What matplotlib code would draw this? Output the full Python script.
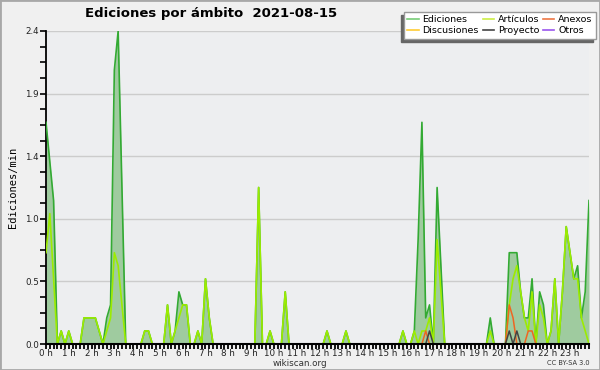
import numpy as np
import matplotlib
matplotlib.use('Agg')
from matplotlib import pyplot as plt
from matplotlib.lines import Line2D
from matplotlib.patches import Rectangle

# edits per minute, one value per 10 minutes (144 bins)
ediciones = [1.7, 1.4, 1.1, 0, 0.1, 0, 0.1, 0, 0, 0, 0.2, 0.2,
             0.2, 0.2, 0.1, 0, 0.2, 0.3, 2.1, 2.4, 1.2, 0, 0, 0,
             0, 0, 0.1, 0.1, 0, 0, 0, 0, 0.3, 0, 0.1, 0.4,
             0.3, 0.3, 0, 0, 0.1, 0, 0.5, 0.2, 0, 0, 0, 0,
             0, 0, 0, 0, 0, 0, 0, 0, 1.2, 0, 0, 0.1,
             0, 0, 0, 0.4, 0, 0, 0, 0, 0, 0, 0, 0,
             0, 0, 0.1, 0, 0, 0, 0, 0.1, 0, 0, 0, 0,
             0, 0, 0, 0, 0, 0, 0, 0, 0, 0, 0.1, 0,
             0, 0.1, 0.8, 1.7, 0.2, 0.3, 0, 1.2, 0.6, 0, 0, 0,
             0, 0, 0, 0, 0, 0, 0, 0, 0, 0.2, 0, 0,
             0, 0, 0.7, 0.7, 0.7, 0.4, 0.2, 0.2, 0.5, 0, 0.4, 0.3,
             0, 0.1, 0.5, 0, 0.4, 0.9, 0.7, 0.5, 0.6, 0.2, 0.4, 1.1]

articulos = [0.7, 1.0, 0.5, 0, 0.1, 0, 0.1, 0, 0, 0, 0.2, 0.2,
             0.2, 0.2, 0.1, 0, 0.1, 0.2, 0.7, 0.6, 0.3, 0, 0, 0,
             0, 0, 0.1, 0.1, 0, 0, 0, 0, 0.3, 0, 0.1, 0.2,
             0.3, 0.3, 0, 0, 0.1, 0, 0.5, 0.2, 0, 0, 0, 0,
             0, 0, 0, 0, 0, 0, 0, 0, 1.2, 0, 0, 0.1,
             0, 0, 0, 0.4, 0, 0, 0, 0, 0, 0, 0, 0,
             0, 0, 0.1, 0, 0, 0, 0, 0.1, 0, 0, 0, 0,
             0, 0, 0, 0, 0, 0, 0, 0, 0, 0, 0.1, 0,
             0, 0.1, 0, 0.1, 0.1, 0.2, 0, 0.8, 0.4, 0, 0, 0,
             0, 0, 0, 0, 0, 0, 0, 0, 0, 0.1, 0, 0,
             0, 0, 0.3, 0.5, 0.6, 0.4, 0.2, 0.1, 0.4, 0, 0.3, 0.2,
             0, 0.1, 0.5, 0, 0.4, 0.9, 0.7, 0.5, 0.5, 0.2, 0.1, 0]

anexos = [0] * 100 + [0.1, 0] + [0] * 20 + [0.3, 0.2, 0, 0, 0, 0.1, 0.1] + [0] * 15
proyecto = [0] * 101 + [0.1] + [0] * 20 + [0.1, 0, 0.1] + [0] * 19
discusiones = [0] * 144
otros = [0] * 144

hour_labels = ['%d h' % h for h in range(24)]
ytick_vals = [0, 0.48, 0.96, 1.44, 1.92, 2.4]
ytick_labels = ['0.0', '0.5', '1.0', '1.4', '1.9', '2.4']

x = np.arange(len(ediciones))

fig = plt.figure(figsize=(6, 3.7), dpi=100, facecolor='#f0f0f0')
fig.patches.append(Rectangle((0, 0), 1, 1, transform=fig.transFigure, fill=False,
                             ec='#a8a8a8', lw=2, zorder=0))

ax = fig.add_axes([46/600, 26/370, 543/600, 313/370])
ax.set_facecolor('#edeef0')

ax.fill_between(x, ediciones, 0, color='#9fcb9f', lw=0, zorder=2)
ax.plot(x, ediciones, color='#33aa33', lw=1.2, zorder=3)
ax.plot(x, articulos, color='#9cec00', lw=1.2, zorder=4)
ax.plot(x, discusiones, color='#ffcc33', lw=1, zorder=1)
ax.plot(x, otros, color='#9955ee', lw=1, zorder=1)
ax.plot(x, anexos, color='#ee6622', lw=1.1, zorder=5)
ax.plot(x, proyecto, color='#444444', lw=1.1, zorder=6)

ax.set_xlim(0, 143)
ax.set_ylim(0, 2.4)
ax.set_xticks(range(0, 144, 6))
ax.set_xticklabels(hour_labels, fontsize=6.3, color='#222222')
ax.set_xticks(range(0, 144), minor=True)
ax.set_yticks(ytick_vals)
ax.set_yticklabels(ytick_labels, fontsize=6.3, color='#222222')
ax.set_yticks(np.arange(0, 2.41, 0.12), minor=True)
ax.tick_params(axis='y', which='both', direction='out', length=4, width=1.2, pad=1)
ax.tick_params(axis='x', which='both', direction='out', length=3.5, width=1.3, pad=0)
ax.yaxis.grid(True, color='#cccccc', lw=1)
ax.set_axisbelow(True)
for s in ['top', 'right']:
    ax.spines[s].set_visible(False)
ax.spines['left'].set_linewidth(1.3)
ax.spines['bottom'].set_linewidth(1.5)
ax.spines['bottom'].set_zorder(8)
ax.set_ylabel('Ediciones/min', fontsize=7.5, family='DejaVu Sans Mono', labelpad=5)

fig.text(85/600, 1 - 13/370, 'Ediciones por ámbito  2021-08-15', fontsize=9.5,
         weight='bold', ha='left', va='center')
fig.text(300/600, 1 - 363/370, 'wikiscan.org', fontsize=6.3, ha='center', va='center', color='#333333')
fig.text(590/600, 1 - 363/370, 'CC BY-SA 3.0', fontsize=4.8, ha='right', va='center', color='#333333')

handles = [Line2D([], [], color='#77cc77', lw=1.2),
           Line2D([], [], color='#ffcc33', lw=1.2),
           Line2D([], [], color='#ccee44', lw=1.2),
           Line2D([], [], color='#444444', lw=1.2),
           Line2D([], [], color='#ee7744', lw=1.2),
           Line2D([], [], color='#9955ee', lw=1.2)]
labels = ['Ediciones', 'Discusiones', 'Artículos', 'Proyecto', 'Anexos', 'Otros']
leg = fig.legend(handles, labels, loc='upper left', bbox_to_anchor=(404/600, 1 - 12/370),
                 ncol=3, fontsize=6.8, fancybox=False, edgecolor='#999999', framealpha=1,
                 borderpad=0.35, handlelength=1.2, handletextpad=0.4, columnspacing=0.4,
                 labelspacing=0.2, borderaxespad=0)
leg.get_frame().set_linewidth(1)
leg.set_zorder(10)

fig.canvas.draw()
bb = leg.get_window_extent()
inv = fig.transFigure.inverted()
(x0, y0), (x1, y1) = inv.transform([[bb.x0 - 3, bb.y0 - 3], [bb.x1 - 3, bb.y1 - 3]])
fig.patches.append(Rectangle((x0, y0), x1 - x0, y1 - y0, transform=fig.transFigure,
                             color='#666666', zorder=9))

plt.savefig('out.png', dpi=100, facecolor=fig.get_facecolor())
